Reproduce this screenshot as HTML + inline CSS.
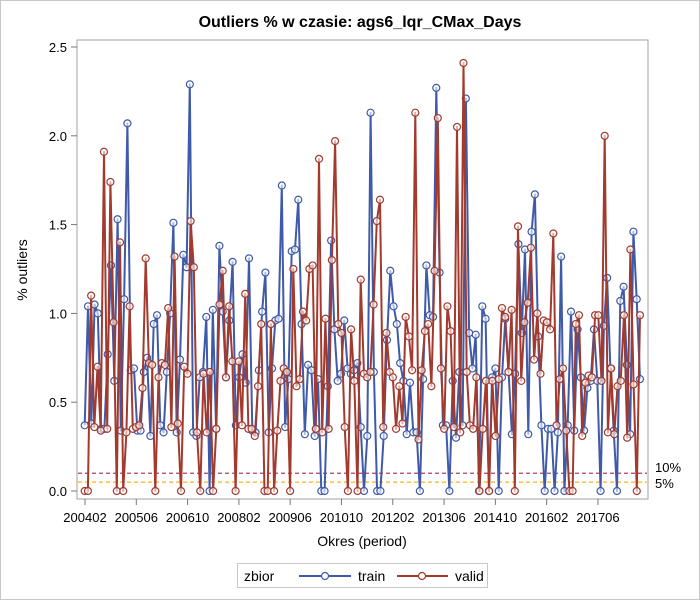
<!DOCTYPE html>
<html><head><meta charset="utf-8"><style>
body{margin:0;background:#fff;}
svg text{font-family:"Liberation Sans",sans-serif;}
</style></head><body>
<svg id="chart" width="700" height="600" viewBox="0 0 700 600" xmlns="http://www.w3.org/2000/svg">
<rect x="0.5" y="0.5" width="699" height="599" fill="#fff" stroke="#c8c8c8"/>
<text x="360" y="27" text-anchor="middle" font-size="16" font-weight="bold" fill="#000">Outliers % w czasie: ags6_lqr_CMax_Days</text>
<rect x="77" y="40" width="571" height="459" fill="none" stroke="#a0a0a0"/>
<g id="yaxis"></g>
<g id="xaxis"></g>
<g id="reflines"></g>
<g id="series"></g>
<text transform="translate(27,270) rotate(-90)" text-anchor="middle" font-size="14" fill="#000">% outliers</text>
<text x="362" y="546" text-anchor="middle" font-size="14" fill="#000">Okres (period)</text>
<g>
<rect x="237.5" y="563.5" width="250" height="24" fill="#fff" stroke="#c8c8c8"/>
<text x="244" y="581" font-size="14" fill="#000">zbior</text>
<g>
<line x1="299" y1="576" x2="351" y2="576" stroke="#3f5aa8" stroke-width="2"/>
<circle cx="325" cy="576" r="3.5" fill="#fff" stroke="#3f5aa8" stroke-width="1.2"/>
<text x="358" y="581" font-size="14" fill="#000">train</text>
</g>
<g>
<line x1="397" y1="576" x2="448" y2="576" stroke="#a23a2e" stroke-width="2"/>
<circle cx="422" cy="576" r="3.5" fill="#fff" stroke="#a23a2e" stroke-width="1.2"/>
<text x="455" y="581" font-size="14" fill="#000">valid</text>
</g>
</g>
</svg>
<script>
const yTicks = [0, 0.5, 1.0, 1.5, 2.0, 2.5];
const xTickLabels = ["200402","200506","200610","200802","200906","201010","201202","201306","201410","201602","201706"];
const xTickMonths = [0,16,32,48,64,80,96,112,128,144,160];
const refValues = [0.10, 0.05];
const refLabels = ["10%", "5%"];
const trainValues = [0.37,1.04,0.38,1.05,1.0,0.35,0.35,0.77,1.27,0.62,1.53,0.34,1.08,2.07,0.68,0.69,0.34,0.34,0.67,0.75,0.31,0.94,0.99,0.37,0.33,0.67,1.0,1.51,0.33,
0.74,1.33,1.26,2.29,0.33,0.31,0.64,0.67,0.98,0,1.02,0.35,1.38,1.01,0.64,0.96,1.29,0.37,0.64,0.77,0.61,1.31,0.34,0.33,0.68,1.01,1.23,0.33,0.69,0.96,
0.97,1.72,0.36,0.63,1.35,1.36,1.64,0.94,0.32,0.71,0.68,0.31,0.63,0,0,0.59,1.41,0.91,0.62,0.66,0.96,0.69,0.66,0.68,0.72,0.36,0,0.31,
2.13,0.67,0,0,0.31,0.85,1.24,1.04,0.94,0.72,0.62,0.32,0.61,0.33,0.33,0,0.63,1.27,0.99,0.98,2.27,1.23,0.37,0.37,0,0.62,0.30,0.67,0.37,2.21,
0.89,0.69,0.88,0,1.04,0.97,0,0.64,0.69,0,0.64,0.97,0.67,0.32,0.66,1.39,0.89,1.36,0.32,1.46,1.67,0.87,0.37,0,0.35,0.35,0,0.33,1.32,0,
0.37,1.01,0.34,0.91,0.64,0.34,0.58,0.62,0.91,0.62,0,0.93,1.20,0.69,0.34,0,1.07,1.15,0.71,0.32,1.46,1.08,0.63];
const validValues = [0,0,1.10,0.36,0.70,0.34,1.91,0.35,1.74,0.95,0,1.40,0,0.33,1.04,0.35,0.36,0.37,0.58,1.31,0.72,0.71,0,0.64,0.72,0.71,1.03,0.36,1.32,
0.38,0,0.70,0.66,1.52,1.26,0.33,0,0.66,0.33,0.67,0,0.35,1.05,1.24,0.64,1.04,0.73,0,0.73,0.37,1.11,0.35,0.35,0.31,0.59,0.94,0,0,0.94,0,
0.34,0.62,0.69,0.67,0,1.25,0.59,0.63,1.01,0.96,1.25,1.27,0.35,1.87,0.33,0.97,0.35,1.30,1.97,0.94,0.89,0.36,0,0.91,0.62,0,1.19,0.66,0.64,0.67,1.05,
1.52,1.64,0.36,0.89,0.67,0.64,0.35,0.59,0.38,0.98,0.87,0.68,2.13,0.29,0.68,0.90,0.94,0.59,1.24,2.10,0.69,0.35,1.04,0.90,0.36,2.05,0.33,2.41,0.67,
0.37,0.35,0.64,0,0.35,0.62,0,0.62,0.31,0.63,1.03,0.98,0.67,1.02,0,1.49,0.62,0.95,1.06,1.37,0.74,1.00,0.66,0.96,0.95,0.91,1.45,0.37,0.63,0.69,0.34,
0,0,0.94,0.99,0.31,0.61,0.65,0.64,0.99,0.99,0.62,2.00,0.33,0.69,0.32,0.59,0.62,0.99,0.30,1.36,0.60,0,0.99];

const NS = "http://www.w3.org/2000/svg";
function yScale(v){ return 491 - v * 177.6; }
function monthX(m){ return 85 + m * 3.206; }
function idxX(i, n){ return 84.7 + i * (640 - 84.7) / (n - 1); }
function mk(tag, attrs, parent){
  const e = document.createElementNS(NS, tag);
  for (const k in attrs) e.setAttribute(k, attrs[k]);
  parent.appendChild(e);
  return e;
}
const yg = document.getElementById("yaxis");
yTicks.forEach(function(t){
  const y = yScale(t);
  const tk = mk("line", {x1:71, x2:77, y1:y, y2:y, stroke:"#777"}, yg);
  
  
  const tx = mk("text", {x:67, y:y+5, "text-anchor":"end", "font-size":"13", fill:"#000"}, yg);
  tx.textContent = t.toFixed(1);
  
  
});
const xg = document.getElementById("xaxis");
xTickMonths.forEach(function(m, i){
  const x = monthX(m);
  const tk = mk("line", {x1:x, x2:x, y1:499, y2:505, stroke:"#777"}, xg);
  
  
  const tx = mk("text", {x:x, y:522, "text-anchor":"middle", "font-size":"13", fill:"#000"}, xg);
  tx.textContent = xTickLabels[i];
  
  
});
const rg = document.getElementById("reflines");
const refColors = ["#b04060", "#ffb21a"];
refValues.forEach(function(v, i){
  const y = yScale(v);
  const ln = mk("line", {x1:78, x2:647, y1:y, y2:y, stroke:refColors[i], "stroke-width":1.2, "stroke-dasharray":"4,3"}, rg);
  
  
  const tx = mk("text", {x:655, y:y + (i === 0 ? -1 : 6), "font-size":"13", fill:"#000"}, rg);
  tx.textContent = refLabels[i];
  
  
});
const sg = document.getElementById("series");
function drawSeries(vals, color, name){
  const g = mk("g", {}, sg);
  
  
  const pts = vals.map(function(v, i){ return idxX(i, vals.length).toFixed(1) + "," + yScale(v).toFixed(1); }).join(" ");
  const pl = mk("polyline", {points:pts, fill:"none", stroke:color, "stroke-width":2, "stroke-linejoin":"round"}, g);
  
  
  vals.forEach(function(v, i){
    const c = mk("circle", {cx:idxX(i, vals.length), cy:yScale(v), r:3.5, fill:"#fff", "fill-opacity":0.6, stroke:color, "stroke-width":1.2}, g);
    
    
  });
}
drawSeries(trainValues, "#3f5aa8", "train");
drawSeries(validValues, "#a23a2e", "valid");
</script>
</body></html>
